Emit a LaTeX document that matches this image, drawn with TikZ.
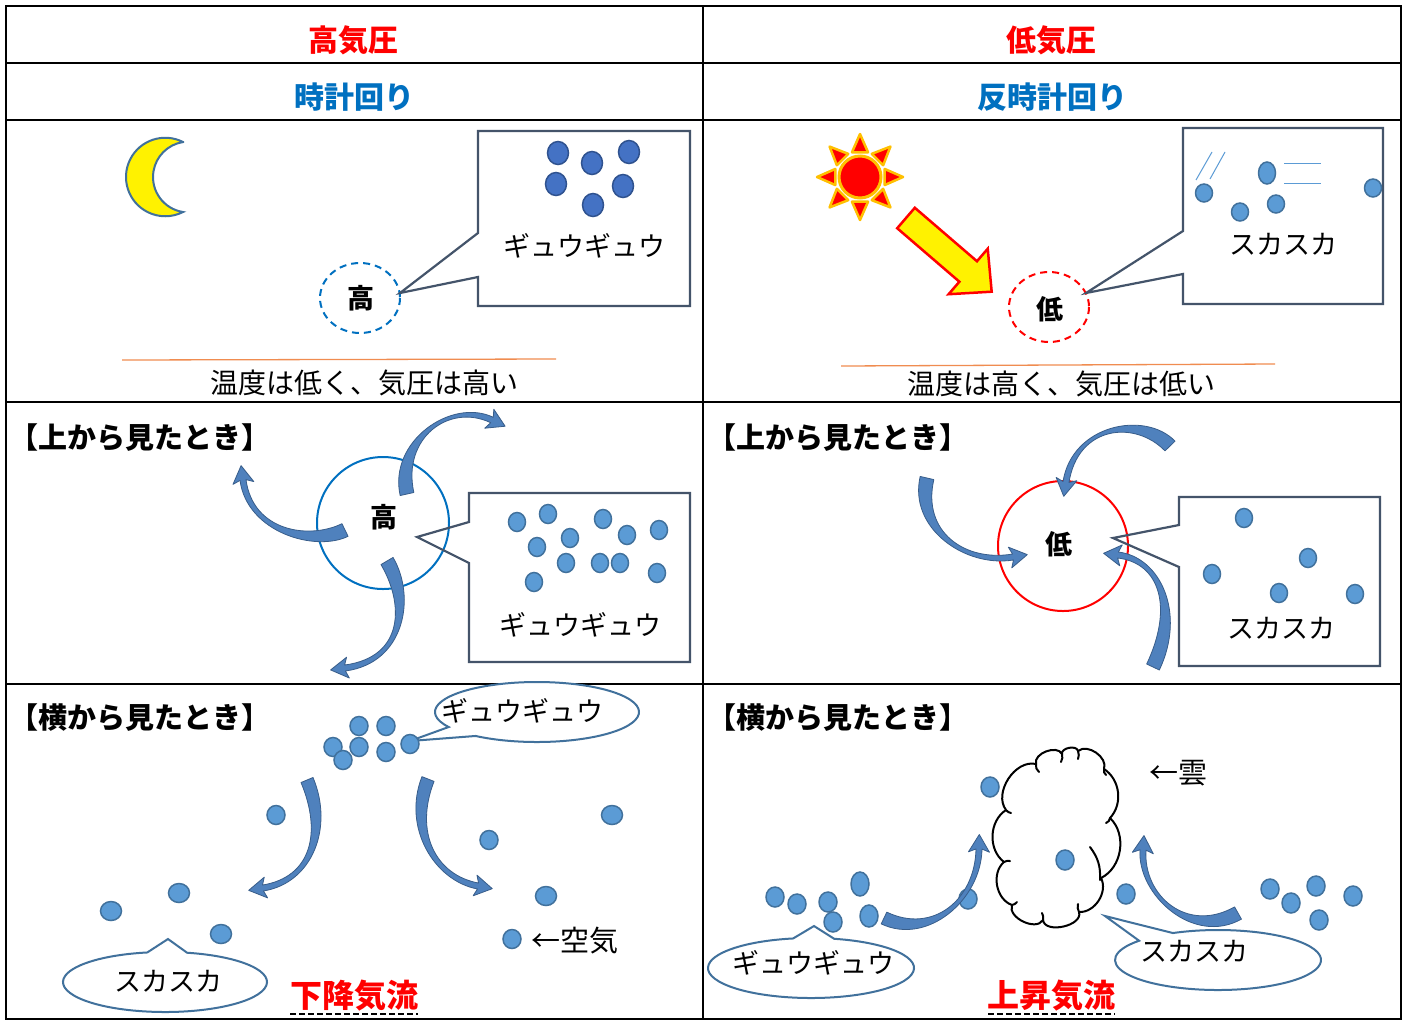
\documentclass[tikz,border=0pt]{standalone}
\usepackage{fontspec}
\setmainfont{Noto Sans CJK JP}
\usetikzlibrary{calc}

\definecolor{hired}{RGB}{255,0,0}
\definecolor{cwblue}{RGB}{0,112,192}
\definecolor{slate}{RGB}{68,84,106}
\definecolor{dotdarkfill}{RGB}{68,114,196}
\definecolor{dotdarkedge}{RGB}{47,82,143}
\definecolor{dotfill}{RGB}{91,155,213}
\definecolor{dotedge}{RGB}{65,113,156}
\definecolor{arrowfill}{RGB}{79,129,189}
\definecolor{arrowedge}{RGB}{56,93,138}
\definecolor{moonedge}{RGB}{65,113,156}
\definecolor{sunorange}{RGB}{255,192,0}
\definecolor{groundline}{RGB}{240,140,80}

% tapered curved arrow: tail, control 1, control 2, head base, tail half width, end half width
\newcommand\blueswoosh[6]{%
  \coordinate (swS) at #1;
  \coordinate (swA) at #2;
  \coordinate (swB) at #3;
  \coordinate (swE) at #4;
  \coordinate (swSl) at ($(swS)!#5pt!90:(swA)$);
  \coordinate (swSr) at ($(swS)!#5pt!-90:(swA)$);
  \coordinate (swEl) at ($(swE)!#6pt!-90:(swB)$);
  \coordinate (swEr) at ($(swE)!#6pt!90:(swB)$);
  \coordinate (swN) at ($(swE)!3pt!(swB)$);
  \coordinate (swHl) at ($(swN)!10.5pt!-90:(swB)$);
  \coordinate (swHr) at ($(swN)!10.5pt!90:(swB)$);
  \coordinate (swT) at ($(swE)!-14.5pt!(swB)$);
  \filldraw[swoosh] (swSl) .. controls ($(swA)+(swSl)-(swS)$) and ($(swB)+(swEl)-(swE)$) .. (swEl)
    -- (swHl) -- (swT) -- (swHr) -- (swEr)
    .. controls ($(swB)+(swEr)-(swE)$) and ($(swA)+(swSr)-(swS)$) .. (swSr) -- cycle;
}

\begin{document}
\begin{tikzpicture}[x=1pt,y=-1pt,
  grid/.style={line width=2.2pt, black},
  headtext/.style={font=\fontsize{30}{32}\selectfont\bfseries, inner sep=0pt},
  bodytext/.style={font=\fontsize{27}{30}\selectfont, inner sep=0pt},
  bigtext/.style={font=\fontsize{29}{32}\selectfont, inner sep=0pt},
  titletext/.style={font=\fontsize{29}{32}\selectfont\bfseries, inner sep=0pt},
  kanji/.style={font=\fontsize{27}{30}\selectfont\bfseries, inner sep=0pt},
  flowtext/.style={font=\fontsize{32}{34}\selectfont\bfseries, text=hired, inner sep=0pt},
  callbox/.style={draw=slate, line width=2.2pt, line join=miter},
  bubble/.style={draw=dotedge, fill=white, line width=2pt},
  dotdark/.style={fill=dotdarkfill, draw=dotdarkedge, line width=1.5pt},
  dotlight/.style={fill=dotfill, draw=dotedge, line width=1.5pt},
  swoosh/.style={fill=arrowfill, draw=arrowedge, line width=0.8pt, line join=round},
  speedline/.style={draw=dotfill, line width=1pt},
  underdash/.style={black, line width=1.5pt, dash pattern=on 6pt off 3pt},
  cloudline/.style={black, line width=2pt, line cap=round},
]
\useasboundingbox (0,0) rectangle (1407,1021);
\fill[white] (0,0) rectangle (1407,1021);

% ---------- table ----------
\draw[grid] (6,6) rectangle (1401,1019);
\draw[grid] (6,63) -- (1401,63);
\draw[grid] (6,120) -- (1401,120);
\draw[grid] (6,402) -- (1401,402);
\draw[grid] (6,684) -- (1401,684);
\draw[grid] (703,6) -- (703,1019);

\node[headtext, text=hired] (hdHigh) at (353,40) {高気圧};
\node[headtext, text=hired] (hdLow) at (1051,40) {低気圧};
\node[headtext, text=cwblue] (hdCw) at (354,97) {時計回り};
\node[headtext, text=cwblue] (hdCcw) at (1052,97) {反時計回り};

% ---------- panel: high pressure at night ----------
\filldraw[fill=yellow, draw=moonedge, line width=2pt]
  (183,142) arc[start angle=-63.1, end angle=-296.9, radius=39.25]
  arc[start angle=98.8, end angle=261.2, radius=35.4] -- cycle;

\draw[draw=cwblue, line width=2pt, dash pattern=on 7pt off 5pt] (360,298) ellipse[x radius=40, y radius=35];
\node[kanji] (hiA) at (361,298) {高};

\draw[callbox] (478,131) -- (690,131) -- (690,306) -- (478,306) -- (478,277) -- (400,293) -- (478,233) -- cycle;
\foreach \p in {(558,153),(592,163),(629,152),(556,184),(623,186),(593,205)}
  \filldraw[dotdark] \p ellipse[x radius=10.5, y radius=11.5];
\node[bodytext] (crowdA) at (584,246) {ギュウギュウ};

\draw[groundline, line width=1.3pt] (122,360) -- (556,359);
\node[font=\fontsize{28}{30}\selectfont, inner sep=0pt] (tempA) at (364,383) {温度は低く、気圧は高い};

% ---------- panel: low pressure in sunshine ----------
\begin{scope}[shift={(860,177)}]
  \foreach \a in {0,45,...,315}
    \filldraw[fill=red, draw=sunorange, line width=2.5pt, line join=round] (\a:43) -- (\a+18:26) -- (\a-18:26) -- cycle;
  \filldraw[fill=red, draw=sunorange, line width=3pt] (0,0) circle[radius=21];
\end{scope}

\begin{scope}[shift={(906,218)}, rotate=-40.7]
  \filldraw[fill=yellow, draw=red, line width=2.5pt, line join=miter]
    (0,13.5) -- (82,13.5) -- (82,30) -- (113,0) -- (82,-30) -- (82,-13.5) -- (0,-13.5) -- cycle;
\end{scope}

\draw[draw=hired, line width=2pt, dash pattern=on 7pt off 5pt] (1049,307) ellipse[x radius=40, y radius=35];
\node[kanji] (loA) at (1050,309) {低};

\draw[callbox] (1183,128) -- (1383,128) -- (1383,304) -- (1183,304) -- (1183,274) -- (1086,293) -- (1183,231) -- cycle;
\draw[speedline] (1196,180) -- (1212,152);
\draw[speedline] (1210,179) -- (1225,152);
\draw[speedline] (1284,163) -- (1321,163);
\draw[speedline] (1284,183) -- (1321,183);
\foreach \p in {(1204,193),(1240,212),(1276,204),(1373,188)}
  \filldraw[dotlight] \p ellipse[x radius=8.5, y radius=9];
\filldraw[dotlight] (1267,173) ellipse[x radius=8.5, y radius=11];
\node[bodytext] (sparseA) at (1283,244) {スカスカ};

\draw[groundline, line width=1.3pt] (841,366) -- (1275,364);
\node[font=\fontsize{28}{30}\selectfont, inner sep=0pt] (tempB) at (1061,384) {温度は高く、気圧は低い};

% ---------- panel: high pressure seen from above ----------
\node[titletext] (topA) at (140,438) {【上から見たとき】};
\draw[draw=cwblue, line width=2pt] (383,523) circle[radius=66];
\draw[callbox] (469,493) -- (690,493) -- (690,662) -- (469,662) -- (469,563) -- (417,537) -- (469,522) -- cycle;
\foreach \p in {(517,522),(548,514),(603,519),(570,538),(627,535),(659,530),(537,547),(566,563),(600,563),(620,563),(534,582),(657,573)}
  \filldraw[dotlight] \p ellipse[x radius=8.5, y radius=9.5];
\node[bodytext] (crowdB) at (580,625) {ギュウギュウ};
\node[kanji] (hiB) at (384,517) {高};
\blueswoosh{(345,530)}{(312,546)}{(250,532)}{(243,480)}{7}{3}
\blueswoosh{(407,494)}{(395,440)}{(450,400)}{(492,420)}{7}{3}
\blueswoosh{(387,561)}{(410,600)}{(405,660)}{(345,668)}{7}{3}

% ---------- panel: low pressure seen from above ----------
\node[titletext] (topB) at (838,438) {【上から見たとき】};
\draw[draw=hired, line width=2pt] (1063,546) circle[radius=65];
\draw[callbox] (1179,497) -- (1380,497) -- (1380,666) -- (1179,666) -- (1179,567) -- (1113,538) -- (1179,525) -- cycle;
\foreach \p in {(1244,518),(1308,558),(1212,574),(1279,593),(1355,594)}
  \filldraw[dotlight] \p ellipse[x radius=8.5, y radius=9.5];
\node[bodytext] (sparseB) at (1281,628) {スカスカ};
\node[kanji] (loB) at (1059,544) {低};
\blueswoosh{(927,478)}{(915,530)}{(965,565)}{(1013,557)}{7}{3}
\blueswoosh{(1170,446)}{(1140,415)}{(1075,425)}{(1066,482)}{7}{3}
\blueswoosh{(1153,667)}{(1180,610)}{(1160,560)}{(1118,555)}{7}{3}

% ---------- panel: descending air seen from the side ----------
\node[titletext] (sideA) at (140,718) {【横から見たとき】};
\draw[bubble] (537,712) ++(150:102 and 30) arc[start angle=150, end angle=487, x radius=102, y radius=30] -- (410,741) -- cycle;
\node[bodytext] (crowdC) at (522,711) {ギュウギュウ};
\foreach \p in {(359,726),(386,726),(333,747),(359,747),(386,752),(343,760),(410,744),(276,815),(489,840),(512,939)}
  \filldraw[dotlight] \p ellipse[x radius=9, y radius=9.5];
\foreach \p in {(179,893),(111,911),(221,934),(612,815),(546,896)}
  \filldraw[dotlight] \p ellipse[x radius=10.5, y radius=9.5];
\blueswoosh{(307,780)}{(328,830)}{(312,880)}{(263,888)}{6.5}{3}
\blueswoosh{(428,779)}{(408,830)}{(435,878)}{(478,886)}{6.5}{3}
\draw[bubble] (165,982) ++(282.5:102 and 30) arc[start angle=282.5, end angle=620, x radius=102, y radius=30] -- (168,939) -- cycle;
\node[bodytext] (sparseC) at (168,981) {スカスカ};
\node[bigtext, anchor=west] (airlbl) at (531,941) {←空気};
\node[flowtext] (down) at (354,996) {下降気流};
\draw[underdash] (290,1014) -- (418,1014);

% ---------- panel: ascending air seen from the side ----------
\node[titletext] (sideB) at (838,718) {【横から見たとき】};
% cloud outline made of lobes
\filldraw[fill=white, draw=black, line width=2pt, line join=round]
  (1006,810) to[bend left=70] (1036,764) to[bend left=85] (1062,754) to[bend left=90] (1078,751)
  to[bend left=75] (1104,769) to[bend left=50] (1110,818) to[bend left=55] (1101,878)
  to[bend left=60] (1079,912) to[bend left=95] (1043,920) to[bend left=85] (1012,905)
  to[bend left=60] (1004,862) to[bend left=55] (1006,810);
% small inner curls where the lobes meet
\draw[cloudline] (1036,764) to[bend right=30] (1039,772);
\draw[cloudline] (1062,754) to[bend left=20] (1061,762);
\draw[cloudline] (1078,751) to[bend left=20] (1078,759);
\draw[cloudline] (1104,769) to[bend right=30] (1106,775);
\draw[cloudline] (1110,818) to[bend left=30] (1106,823);
\draw[cloudline] (1090,847) to[bend left=20] (1100,880);
\draw[cloudline] (1079,912) to[bend left=20] (1078,904);
\draw[cloudline] (1043,920) to[bend right=20] (1042,913);
\draw[cloudline] (1012,905) to[bend right=20] (1017,902);
\draw[cloudline] (1004,862) to[bend left=20] (1010,861);
\draw[cloudline] (1006,810) to[bend right=20] (1011,813);
\node[bigtext, anchor=west] (cloudlbl) at (1149,773) {←雲};
\foreach \p in {(775,897),(797,904),(828,902),(833,922),(968,899),(990,787),(1065,860),(1126,894),(1270,889),(1316,886),(1291,903),(1319,920),(1353,896)}
  \filldraw[dotlight] \p ellipse[x radius=9, y radius=10];
\filldraw[dotlight] (860,884) ellipse[x radius=9, y radius=12];
\filldraw[dotlight] (869,916) ellipse[x radius=9, y radius=11];
\blueswoosh{(884,918)}{(930,940)}{(978,900)}{(979,849)}{6.5}{3}
\blueswoosh{(1238,913)}{(1190,940)}{(1140,895)}{(1143,850)}{7}{3}
\draw[bubble] (811,968) ++(283:103 and 30) arc[start angle=283, end angle=620, x radius=103, y radius=30] -- (814,926) -- cycle;
\node[bodytext] (crowdD) at (813,963) {ギュウギュウ};
\draw[bubble] (1218,960) ++(244:103 and 30) arc[start angle=244, end angle=580, x radius=103, y radius=30] -- (1105,916) -- cycle;
\node[bodytext] (sparseD) at (1194,951) {スカスカ};
\node[flowtext] (up) at (1051,996) {上昇気流};
\draw[underdash] (988,1014) -- (1115,1014);
\end{tikzpicture}
\end{document}
